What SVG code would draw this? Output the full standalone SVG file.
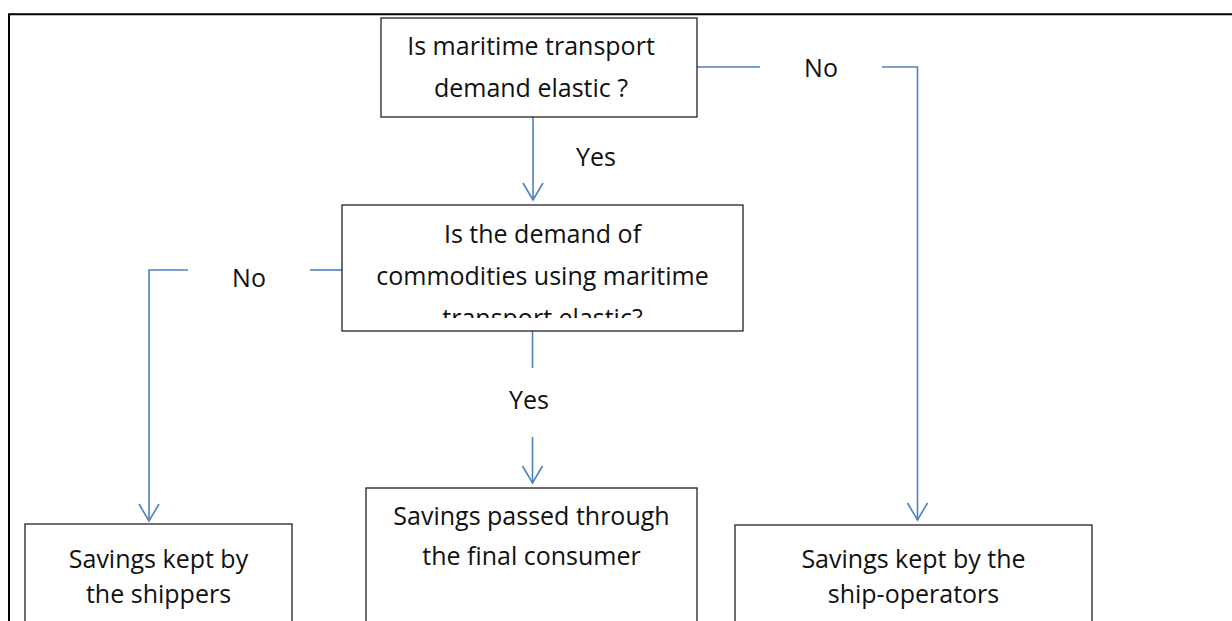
<svg xmlns="http://www.w3.org/2000/svg" width="1232" height="621" viewBox="0 0 1232 621">
<style>
.box{fill:#fff;stroke:#222;stroke-width:1.3}
.t{font-family:"Open Sans","Liberation Sans",sans-serif;font-size:25px;fill:#111;text-anchor:middle}
.c{fill:none;stroke:#4f81bd;stroke-width:1.6}
</style>
<defs>
<marker id="ah" markerUnits="userSpaceOnUse" orient="auto" markerWidth="20" markerHeight="24" viewBox="-19 -12 20 24" refX="0" refY="0" overflow="visible">
<path d="M-17,-10 L0,0 L-17,10" fill="none" stroke="#4f81bd" stroke-width="1.6"/>
</marker>
<clipPath id="q2clip"><rect x="342" y="205" width="401" height="113"/></clipPath>
</defs>
<rect width="1232" height="621" fill="#fff"/>
<g id="frame"><path d="M9,621 V14.3 H1232" fill="none" stroke="#000" stroke-width="2"/></g>
<g id="connectors">
<path class="c" d="M697,67 H760"/>
<path class="c" d="M882,67 H917.5 V520" marker-end="url(#ah)"/>
<path class="c" d="M533,117 V200" marker-end="url(#ah)"/>
<path class="c" d="M342,270 H310"/>
<path class="c" d="M188,270 H149 V521" marker-end="url(#ah)"/>
<path class="c" d="M532.5,331 V368"/>
<path class="c" d="M532.5,437 V483" marker-end="url(#ah)"/>
<text class="t" x="821" y="77">No</text>
<text class="t" x="596" y="166">Yes</text>
<text class="t" x="249" y="287">No</text>
<text class="t" x="529" y="409">Yes</text>
</g>
<g id="q1">
<rect class="box" x="381" y="18" width="316" height="99"/>
<text class="t" x="531" y="55">Is maritime transport</text>
<text class="t" x="531" y="97">demand elastic ?</text>
</g>
<g id="q2">
<rect class="box" x="342" y="205" width="401" height="126"/>
<g clip-path="url(#q2clip)">
<text class="t" x="542.5" y="243">Is the demand of</text>
<text class="t" x="542.5" y="285">commodities using maritime</text>
<text class="t" x="542.5" y="327">transport elastic?</text>
</g>
</g>
<g id="r1">
<rect class="box" x="25" y="524" width="267" height="120"/>
<text class="t" x="158.5" y="568">Savings kept by</text>
<text class="t" x="158.5" y="603">the shippers</text>
</g>
<g id="r2">
<rect class="box" x="366" y="488" width="331" height="150"/>
<text class="t" x="531.5" y="525">Savings passed through</text>
<text class="t" x="531.5" y="565">the final consumer</text>
</g>
<g id="r3">
<rect class="box" x="735" y="525" width="357" height="120"/>
<text class="t" x="913.5" y="568">Savings kept by the</text>
<text class="t" x="913.5" y="603">ship-operators</text>
</g>
</svg>
